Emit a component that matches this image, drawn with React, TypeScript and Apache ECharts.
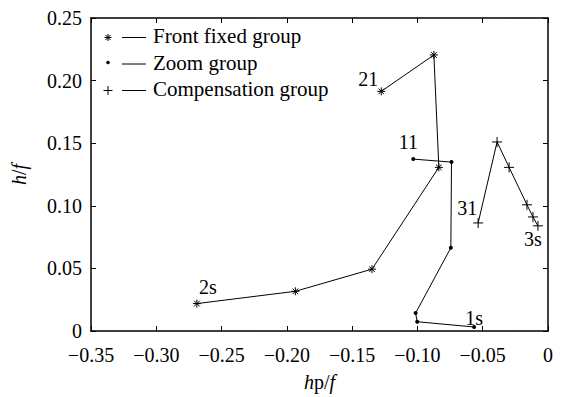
import React, { useEffect, useRef } from "react";
import * as echarts from "echarts";

const FONT = "Liberation Serif";

const frontFixedX = [-0.2689, -0.1935, -0.1348, -0.0836, -0.0874, -0.1277];
const frontFixedY = [0.0219, 0.0317, 0.0494, 0.1307, 0.2205, 0.1914];
const frontFixedLabels = ["2s", "", "", "", "", "21"];

const zoomX = [-0.1032, -0.0739, -0.0744, -0.1014, -0.1002, -0.0566];
const zoomY = [0.1373, 0.1349, 0.0665, 0.0143, 0.0074, 0.0032];
const zoomLabels = ["11", "", "", "", "", "1s"];

const compX = [-0.0535, -0.039, -0.0298, -0.0161, -0.0115, -0.0077];
const compY = [0.0863, 0.151, 0.1307, 0.1008, 0.0911, 0.084];
const compLabels = ["31", "", "", "", "", "3s"];

const seriesNames = ["Front fixed group", "Zoom group", "Compensation group"];

const xTicks = { min: -0.35, max: 0, interval: 0.05 };
const yTicks = { min: 0, max: 0.25, interval: 0.05 };

const ASTERISK = "path://M0,4L8,4M4,0L4,8M1.2,1.2L6.8,6.8M1.2,6.8L6.8,1.2";
const PLUS = "path://M0,5L10,5M5,0L5,10";

// label placement (position + offset) per labelled point
const labelPlacement: Record<string, { position: any; offset: number[] }> = {
  "2s": { position: "top", offset: [11, 5] },
  "21": { position: "top", offset: [-13, 9] },
  "11": { position: "top", offset: [-5, 0] },
  "1s": { position: "top", offset: [0, 8] },
  "31": { position: "top", offset: [-11, 8] },
  "3s": { position: "bottom", offset: [-5, -9] },
};

function buildData(xs: number[], ys: number[], labels: string[]) {
  return xs.map((x, i) => {
    const lab = labels[i];
    if (!lab) return { value: [x, ys[i]] };
    const p = labelPlacement[lab];
    return {
      value: [x, ys[i]],
      label: {
        show: true,
        formatter: lab,
        position: p.position,
        offset: p.offset,
        fontFamily: FONT,
        fontSize: 20,
        color: "#000",
      },
    };
  });
}

function xFmt(v: number) {
  if (Math.abs(v) < 1e-9) return "0";
  return (v < 0 ? "\u2212" : "") + Math.abs(v).toFixed(2);
}
function yFmt(v: number) {
  if (Math.abs(v) < 1e-9) return "0";
  return v.toFixed(2);
}

function legendGraphic() {
  const rows = [37.5, 64, 90.5];
  const mx = 108;
  const els: any[] = [];
  rows.forEach((y, i) => {
    const st = { stroke: "#000", lineWidth: 1 };
    if (i === 0) {
      const r = 3.5;
      const d = 2.5;
      els.push({ type: "line", shape: { x1: mx - r, y1: y, x2: mx + r, y2: y }, style: st });
      els.push({ type: "line", shape: { x1: mx, y1: y - r, x2: mx, y2: y + r }, style: st });
      els.push({ type: "line", shape: { x1: mx - d, y1: y - d, x2: mx + d, y2: y + d }, style: st });
      els.push({ type: "line", shape: { x1: mx - d, y1: y + d, x2: mx + d, y2: y - d }, style: st });
    } else if (i === 1) {
      els.push({ type: "circle", shape: { cx: mx, cy: y - 1.5, r: 1.8 }, style: { fill: "#000" } });
    } else {
      const r = 4.5;
      els.push({ type: "line", shape: { x1: mx - r, y1: y, x2: mx + r, y2: y }, style: st });
      els.push({ type: "line", shape: { x1: mx, y1: y - r, x2: mx, y2: y + r }, style: st });
    }
    els.push({ type: "line", shape: { x1: 122, y1: y, x2: 146, y2: y }, style: st });
    els.push({
      type: "text",
      x: 153,
      y: y - 12,
      style: {
        text: seriesNames[i],
        fontFamily: FONT,
        fontSize: 21,
        fill: "#000",
      },
    });
  });
  return els;
}

export default function App() {
  const ref = useRef<HTMLDivElement>(null);
  useEffect(() => {
    if (!ref.current) return;
    const chart = echarts.init(ref.current, undefined, { renderer: "svg" });
    const axisLine = { onZero: false, lineStyle: { color: "#000", width: 1.5 } };
    const tick = { show: true, inside: true, length: 5, lineStyle: { color: "#000", width: 1 } };
    const option: any = {
      animation: false,
      backgroundColor: "#fff",
      textStyle: { fontFamily: FONT, color: "#000" },
      grid: { left: 91, right: 15, top: 18, bottom: 64, containLabel: false },
      xAxis: [
        {
          type: "value",
          position: "bottom",
          ...xTicks,
          axisLine,
          axisTick: tick,
          splitLine: { show: false },
          axisLabel: { formatter: xFmt, fontFamily: FONT, fontSize: 20, color: "#000", margin: 14 },
          name: "{i|h}p/{i|f}",
          nameLocation: "middle",
          nameGap: 41,
          nameTextStyle: {
            fontFamily: FONT,
            fontSize: 20,
            color: "#000",
            rich: { i: { fontFamily: FONT, fontSize: 20, fontStyle: "italic", color: "#000" } },
          },
        },
        {
          type: "value",
          position: "top",
          ...xTicks,
          axisLine,
          axisTick: tick,
          splitLine: { show: false },
          axisLabel: { show: false },
        },
      ],
      yAxis: [
        {
          type: "value",
          position: "left",
          ...yTicks,
          axisLine,
          axisTick: tick,
          splitLine: { show: false },
          axisLabel: { formatter: yFmt, fontFamily: FONT, fontSize: 20, color: "#000", margin: 9 },
          name: "{i|h}/{i|f}",
          nameLocation: "middle",
          nameGap: 62,
          nameTextStyle: {
            fontFamily: FONT,
            fontSize: 20,
            color: "#000",
            rich: { i: { fontFamily: FONT, fontSize: 20, fontStyle: "italic", color: "#000" } },
          },
        },
        {
          type: "value",
          position: "right",
          ...yTicks,
          axisLine,
          axisTick: tick,
          splitLine: { show: false },
          axisLabel: { show: false },
        },
      ],
      series: [
        {
          name: seriesNames[0],
          type: "line",
          data: buildData(frontFixedX, frontFixedY, frontFixedLabels),
          symbol: ASTERISK,
          symbolSize: 8,
          lineStyle: { color: "#000", width: 1 },
          itemStyle: { color: "none", borderColor: "#000", borderWidth: 1 },
        },
        {
          name: seriesNames[1],
          type: "line",
          data: buildData(zoomX, zoomY, zoomLabels),
          symbol: "circle",
          symbolSize: 4,
          lineStyle: { color: "#000", width: 1 },
          itemStyle: { color: "#000" },
        },
        {
          name: seriesNames[2],
          type: "line",
          data: buildData(compX, compY, compLabels),
          symbol: PLUS,
          symbolSize: 10,
          lineStyle: { color: "#000", width: 1 },
          itemStyle: { color: "none", borderColor: "#000", borderWidth: 1 },
        },
      ],
      graphic: legendGraphic(),
    };
    chart.setOption(option);
    return () => chart.dispose();
  }, []);
  return (
    <div
      ref={ref}
      style={{ position: "fixed", left: 0, top: 0, width: 563, height: 397, background: "#fff" }}
    />
  );
}
